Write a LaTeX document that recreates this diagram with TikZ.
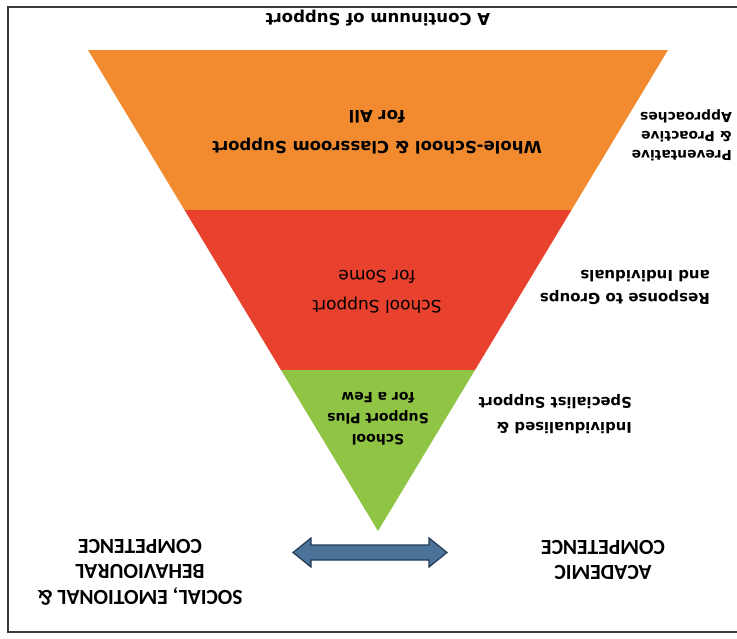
\documentclass[tikz,border=0pt]{standalone}
\usepackage{fontspec}
\setmainfont{DejaVu Sans}
\newfontfamily\capsfont{Carlito}
\definecolor{orangeC}{HTML}{F28B30}
\definecolor{redC}{HTML}{E8412E}
\definecolor{greenC}{HTML}{8FC444}
\definecolor{arrowC}{HTML}{4B7399}
\definecolor{arrowD}{HTML}{223A55}
\definecolor{frameC}{HTML}{3A3A3A}
\begin{document}
\begin{tikzpicture}[x=1pt,y=-1pt,
  txt/.style={rotate=180, align=center, text=black, inner sep=0pt},
  lbl/.style={rotate=180, align=left, anchor=west, text=black, inner sep=0pt},
  capsl/.style={rotate=180, align=center, text=black, inner sep=0pt, font=\capsfont\bfseries\fontsize{21.5}{25.5}\selectfont}]
\useasboundingbox (0,0) rectangle (737,638);
\draw[line width=1.3pt, draw=frameC] (745,7) -- (8,7) -- (8,632) -- (745,632);
% bands
\fill[orangeC] (88,50) -- (668,50) -- (571.5,210) -- (184.5,210) -- cycle;
\fill[redC] (184.5,210) -- (571.5,210) -- (475,370) -- (281,370) -- cycle;
\fill[greenC] (281,370) -- (475,370) -- (378,531) -- cycle;
% title
\node[txt, font=\bfseries\fontsize{16.5}{20}\selectfont] (title) at (378,18) {A Continuum of Support};
% band texts
\node[txt, font=\bfseries\fontsize{16.5}{31}\selectfont] (all) at (377,132) {Whole-School \& Classroom Support\\for All};
\node[txt, font=\fontsize{17}{30}\selectfont] (some) at (377,292) {School Support\\for Some};
\node[txt, font=\bfseries\fontsize{14}{21}\selectfont] (few) at (378,419) {School\\Support Plus\\for a Few};
% side labels
\node[lbl, font=\bfseries\fontsize{13.8}{19}\selectfont] (prev) at (732,135) {Preventative\\\& Proactive\\Approaches};
\node[lbl, font=\bfseries\fontsize{15}{23}\selectfont] (resp) at (710,287.5) {Response to Groups\\and Individuals};
\node[lbl, font=\bfseries\fontsize{14.8}{25}\selectfont] (indiv) at (632,414.5) {Individualised \&\\Specialist Support};
% bottom labels
\node[capsl] (social) at (140,572) {SOCIAL, EMOTIONAL \&\\BEHAVIOURAL\\COMPETENCE};
\node[capsl] (acad) at (603,560) {ACADEMIC\\COMPETENCE};
% double arrow
\coordinate (aL) at (293,552.5);
\coordinate (aR) at (447,552.5);
\draw[fill=arrowC, draw=arrowD, line width=1.2pt, line join=miter]
  (aL) -- ++(18,-14.5) -- ++(0,7) -- ++(118,0) -- ++(0,-7) -- (aR)
  -- ++(-18,14.5) -- ++(0,-7) -- ++(-118,0) -- ++(0,7) -- cycle;
\end{tikzpicture}
\end{document}
